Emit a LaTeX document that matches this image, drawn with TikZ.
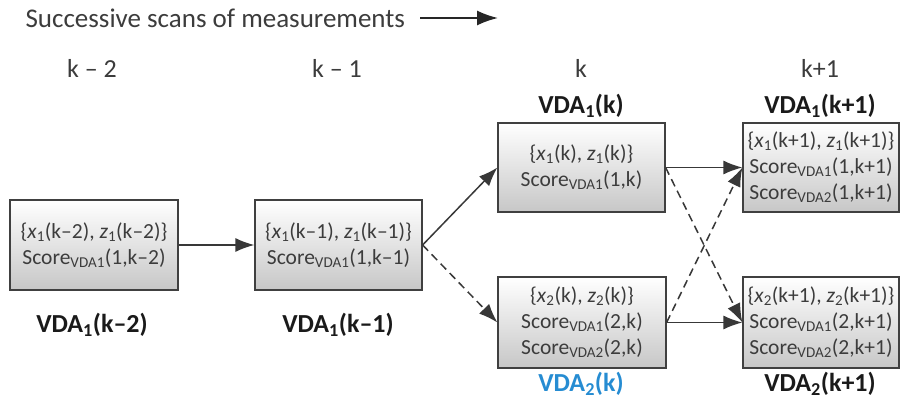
\documentclass[tikz,border=0pt]{standalone}
\usepackage{fontspec}
\setmainfont{Carlito}
\usetikzlibrary{arrows.meta,shadows}
\definecolor{txt}{RGB}{60,60,60}
\definecolor{lbl}{RGB}{26,26,26}
\definecolor{vblue}{RGB}{38,140,210}
\newcommand\sbs[1]{\textsubscript{#1}}
\begin{document}
\begin{tikzpicture}[x=1pt,y=-1pt,
  box/.style={draw=black!75, line width=1.2pt, top color=white, bottom color=black!22,
    align=center, font=\fontsize{21.5}{26}\selectfont, text=txt, inner sep=0pt,
    drop shadow={shadow xshift=1.2pt, shadow yshift=-1.2pt, opacity=.45}},
  lab/.style={font=\fontsize{26}{30}\selectfont\bfseries, text=lbl},
  col/.style={font=\fontsize{26}{30}\selectfont, text=txt},
  arr/.style={draw=black!78, line width=1.5pt, -{Latex[length=19pt,width=14pt]}},
  darr/.style={arr, dash pattern=on 8pt off 5pt},
]
\useasboundingbox (0,0) rectangle (903,401);

\node[anchor=west, font=\fontsize{27}{30}\selectfont, text=txt] (title) at (22,18) {Successive scans of measurements};
\coordinate (ta) at (420,18);
\coordinate (tb) at (498,18);
\draw[draw=black!85, line width=1.8pt, -{Latex[length=21pt,width=15pt]}] (ta) -- (tb);

\node[col] (c1) at (92,68) {k -- 2};
\node[col] (c2) at (337,68) {k -- 1};
\node[col] (c3) at (581,68) {k};
\node[col] (c4) at (820,68) {k+1};

\node[box, minimum width=168pt, minimum height=90pt] (b1) at (94,245)
  {\{\textit{x}\sbs{1}(k--2), \textit{z}\sbs{1}(k--2)\}\\Score\sbs{VDA1}(1,k--2)};
\node[box, minimum width=167pt, minimum height=90pt] (b2) at (338.5,245)
  {\{\textit{x}\sbs{1}(k--1), \textit{z}\sbs{1}(k--1)\}\\Score\sbs{VDA1}(1,k--1)};
\node[box, minimum width=167pt, minimum height=89pt] (b3) at (581.5,167.5)
  {\{\textit{x}\sbs{1}(k), \textit{z}\sbs{1}(k)\}\\Score\sbs{VDA1}(1,k)};
\node[box, minimum width=156pt, minimum height=89pt] (b4) at (821,167.5)
  {\{\textit{x}\sbs{1}(k+1), \textit{z}\sbs{1}(k+1)\}\\Score\sbs{VDA1}(1,k+1)\\Score\sbs{VDA2}(1,k+1)};
\node[box, minimum width=168pt, minimum height=91pt] (b5) at (582,322.5)
  {\{\textit{x}\sbs{2}(k), \textit{z}\sbs{2}(k)\}\\Score\sbs{VDA1}(2,k)\\Score\sbs{VDA2}(2,k)};
\node[box, minimum width=156pt, minimum height=91pt] (b6) at (821,322.5)
  {\{\textit{x}\sbs{2}(k+1), \textit{z}\sbs{2}(k+1)\}\\Score\sbs{VDA1}(2,k+1)\\Score\sbs{VDA2}(2,k+1)};

\node[lab] (l1) at (92,325) {VDA\sbs{1}(k--2)};
\node[lab] (l2) at (338,325) {VDA\sbs{1}(k--1)};
\node[lab] (l3) at (581,106) {VDA\sbs{1}(k)};
\node[lab] (l4) at (820,106) {VDA\sbs{1}(k+1)};
\node[lab, text=vblue] (l5) at (581,384) {VDA\sbs{2}(k)};
\node[lab] (l6) at (820,384) {VDA\sbs{2}(k+1)};

\draw[arr] (b1.east) -- (b2.west);
\draw[arr] (b2.east) -- (b3.west);
\draw[darr] (b2.east) -- (b5.west);
\draw[arr] (b3.east) -- (b4.west);
\draw[darr] (b3.east) -- (b6.west);
\draw[darr] (b5.east) -- (b4.west);
\draw[arr] (b5.east) -- (b6.west);
\end{tikzpicture}
\end{document}
